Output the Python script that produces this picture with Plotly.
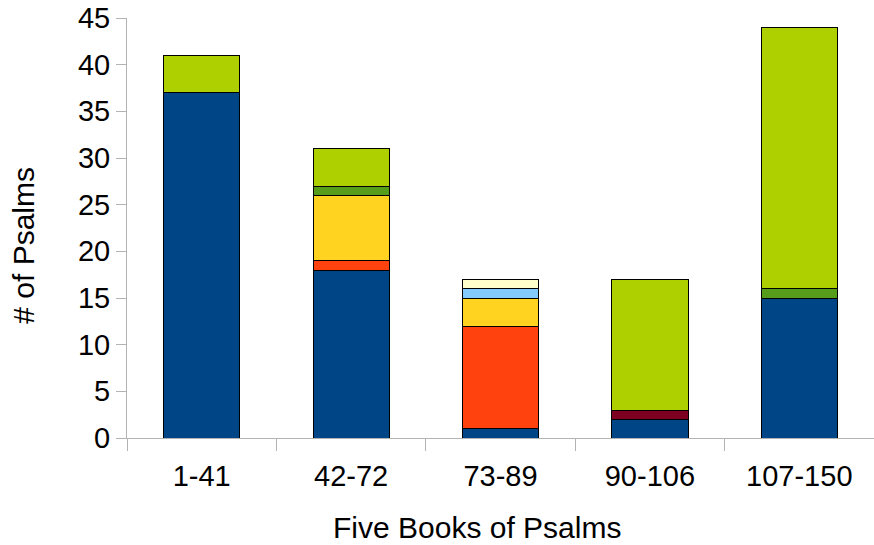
import plotly.graph_objects as go

categories = ["1-41", "42-72", "73-89", "90-106", "107-150"]
series_names = ["David", "Moses", "Asaph", "Sons of Korah", "Heman", "Ethan", "Solomon", "Anonymous"]
david = [37, 18, 1, 2, 15]
moses = [0, 0, 0, 1, 0]
asaph = [0, 1, 11, 0, 0]
korah = [0, 7, 3, 0, 0]
heman = [0, 0, 1, 0, 0]
ethan = [0, 0, 1, 0, 0]
solomon = [0, 1, 0, 0, 1]
anonymous = [4, 4, 0, 14, 28]
values = [david, moses, asaph, korah, heman, ethan, solomon, anonymous]
colors = ["#004586", "#7e0021", "#ff420e", "#ffd320", "#83caff", "#ffffcc", "#579d1c", "#aecf00"]

fig = go.Figure()
for name, vals, col in zip(series_names, values, colors):
    fig.add_trace(go.Bar(x=categories, y=vals, name=name, marker=dict(color=col, line=dict(color="#000000", width=1))))

font = "Liberation Sans, Arial, sans-serif"
fig.update_layout(
    barmode="stack", bargap=0.49, width=874, height=545,
    margin=dict(l=127, r=0, t=18, b=107),
    plot_bgcolor="white", paper_bgcolor="white", showlegend=False,
    font=dict(family=font, color="#000000"),
)
fig.update_xaxes(
    automargin=False, ticklabeloverflow="allow",
    showline=True, linecolor="#b3b3b3", linewidth=1, ticks="outside", tickson="boundaries",
    ticklen=12, tickcolor="#b3b3b3", tickfont=dict(size=29), showgrid=False, ticklabelstandoff=12,
)
fig.update_yaxes(
    automargin=False, ticklabeloverflow="allow",
    range=[0, 45], dtick=5, showline=True, linecolor="#b3b3b3", linewidth=1, ticks="outside",
    ticklen=10, tickcolor="#b3b3b3", tickfont=dict(size=29), showgrid=False, zeroline=False,
)
fig.add_annotation(
    text="# of Psalms", xref="paper", yref="paper", x=-0.138, y=0.46,
    xanchor="center", yanchor="middle", textangle=-90, showarrow=False,
    font=dict(size=30, family=font, color="#000000"),
)
fig.add_annotation(
    text="Five Books of Psalms", xref="paper", yref="paper", x=0.4685, y=-0.214,
    xanchor="center", yanchor="middle", showarrow=False,
    font=dict(size=30, family=font, color="#000000"),
)
fig.write_html(
    "out.html",
    config={"displayModeBar": False},
    post_script="document.body.style.margin='0';document.body.style.overflow='hidden';",
)
